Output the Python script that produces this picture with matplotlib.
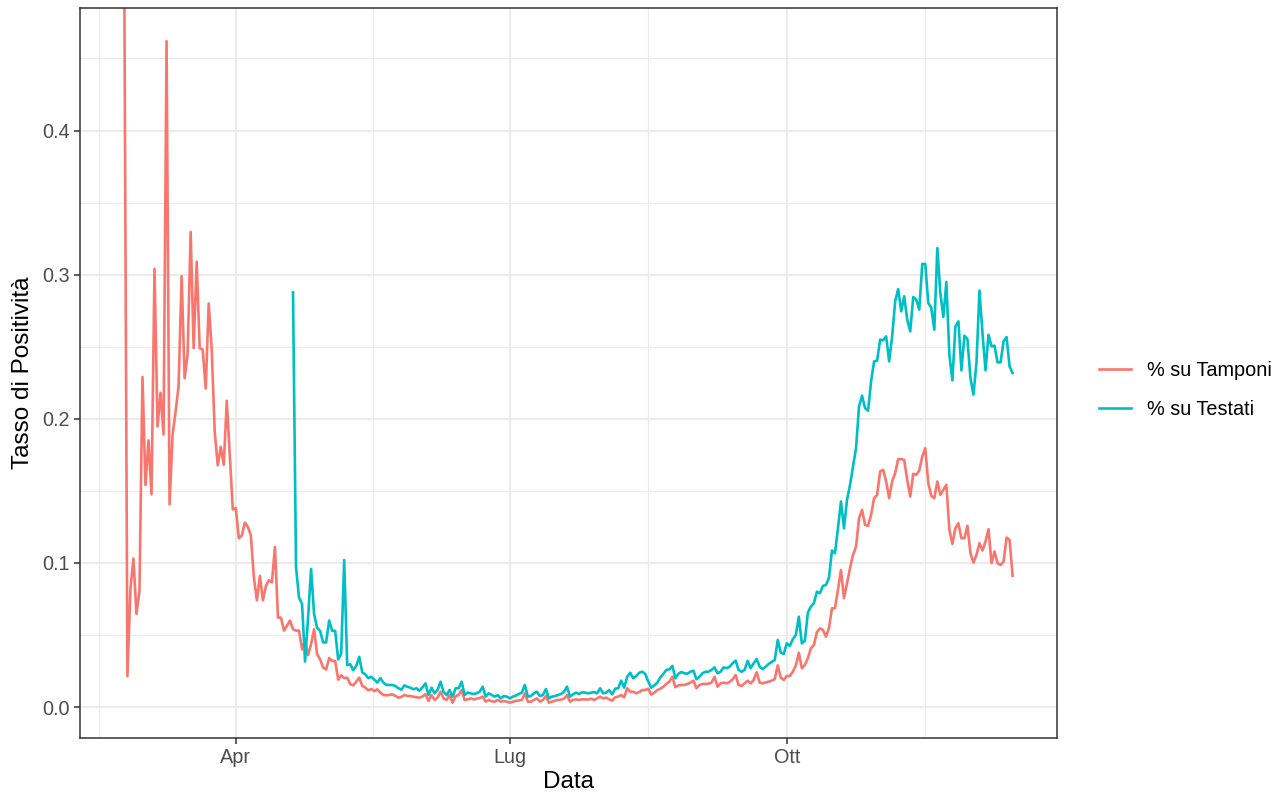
import matplotlib
matplotlib.use('Agg')
import matplotlib.pyplot as plt
import matplotlib.dates as mdates
from matplotlib.lines import Line2D
import numpy as np
import pandas as pd

plt.rcParams['font.family'] = ['Liberation Sans', 'DejaVu Sans']

# daily positivity rate, first day is a division by zero (Inf)
START_TAMPONI = '2020-02-24'
START_TESTATI = '2020-04-20'

tamponi = [
    np.inf, 0.0214, 0.082, 0.103, 0.0645, 0.0805, 0.229, 0.154, 0.185, 0.1476,
    0.304, 0.1946, 0.218, 0.189, 0.462, 0.1406, 0.189, 0.205, 0.2227, 0.299,
    0.228, 0.245, 0.3297, 0.249, 0.309, 0.2489, 0.248, 0.221, 0.280, 0.248,
    0.1907, 0.1677, 0.1805, 0.168, 0.2125, 0.175, 0.137, 0.138, 0.117, 0.119,
    0.128, 0.125, 0.119, 0.090, 0.074, 0.091, 0.074, 0.084, 0.088, 0.0865,
    0.111, 0.062, 0.062, 0.053, 0.0564, 0.060, 0.054, 0.053, 0.053, 0.040,
    0.046, 0.036, 0.0436, 0.054, 0.0367, 0.033, 0.0274, 0.026, 0.034, 0.032,
    0.032, 0.019, 0.022, 0.020, 0.0204, 0.0158, 0.015, 0.0176, 0.0204, 0.0146,
    0.0135, 0.0116, 0.0125, 0.011, 0.0123, 0.010, 0.0084, 0.0081, 0.0084, 0.0088,
    0.0077, 0.0065, 0.007, 0.0084, 0.0077, 0.0076, 0.0072, 0.0067, 0.0065, 0.0072,
    0.0088, 0.0042, 0.0083, 0.0049, 0.0065, 0.0106, 0.006, 0.0049, 0.0083, 0.003,
    0.0076, 0.0083, 0.0118, 0.0049, 0.0053, 0.006, 0.0053, 0.0058, 0.0062, 0.0072,
    0.0037, 0.0049, 0.0039, 0.0037, 0.0049, 0.0037, 0.0042, 0.0037, 0.003, 0.0037,
    0.0042, 0.0046, 0.0049, 0.0095, 0.0037, 0.0037, 0.0049, 0.006, 0.0037, 0.0049,
    0.0076, 0.003, 0.0037, 0.0044, 0.0049, 0.0051, 0.0058, 0.0083, 0.0037, 0.0049,
    0.0053, 0.0049, 0.0053, 0.0053, 0.0051, 0.0058, 0.0049, 0.006, 0.0072, 0.006,
    0.0065, 0.0053, 0.0044, 0.0067, 0.0072, 0.0083, 0.0067, 0.013, 0.0106, 0.0106,
    0.0095, 0.0104, 0.0118, 0.0118, 0.0127, 0.0086, 0.0100, 0.0118, 0.0127, 0.0141,
    0.016, 0.0176, 0.021, 0.0137, 0.015, 0.0153, 0.0153, 0.016, 0.0169, 0.0183,
    0.013, 0.0153, 0.016, 0.016, 0.0162, 0.0169, 0.021, 0.0141, 0.0164, 0.0169,
    0.0164, 0.0174, 0.0192, 0.0222, 0.0153, 0.0146, 0.0164, 0.0183, 0.0164, 0.0188,
    0.0241, 0.0169, 0.0164, 0.0171, 0.0176, 0.0183, 0.0194, 0.0289, 0.0204, 0.0188,
    0.0215, 0.0215, 0.0245, 0.0287, 0.0377, 0.0269, 0.0292, 0.0338, 0.0407, 0.043,
    0.0519, 0.0546, 0.0535, 0.0488, 0.0546, 0.0685, 0.0685, 0.0813, 0.0951, 0.0755,
    0.0859, 0.0963, 0.1056, 0.1113, 0.131, 0.1368, 0.1264, 0.1257, 0.1333, 0.1449,
    0.1472, 0.1634, 0.1646, 0.1565, 0.1449, 0.1565, 0.1623, 0.172, 0.172, 0.1715,
    0.1576, 0.146, 0.1618, 0.1611, 0.1641, 0.1738, 0.1796, 0.1553, 0.1465, 0.1449,
    0.1565, 0.1472, 0.1507, 0.1542, 0.1229, 0.1132, 0.1241, 0.1275, 0.1171, 0.1171,
    0.1257, 0.1067, 0.1002, 0.1056, 0.1137, 0.1086, 0.1148, 0.1234, 0.0998, 0.1079,
    0.0998, 0.0986, 0.1009, 0.1176, 0.116, 0.091,
]

testati = [
    0.2877, 0.097, 0.076, 0.0715,
    0.0316, 0.062, 0.0958, 0.0645, 0.055, 0.0529, 0.0448, 0.0448, 0.060, 0.0529,
    0.0529, 0.033, 0.037, 0.102, 0.029, 0.0297, 0.0255, 0.0285, 0.0348, 0.024,
    0.0227, 0.020, 0.021, 0.019, 0.017, 0.020, 0.017, 0.0153, 0.0153, 0.0153,
    0.0146, 0.013, 0.012, 0.015, 0.014, 0.0134, 0.0123, 0.013, 0.0113, 0.0137,
    0.0164, 0.0083, 0.0134, 0.0095, 0.0118, 0.0176, 0.0104, 0.0083, 0.0118, 0.0072,
    0.013, 0.013, 0.0176, 0.0083, 0.0100, 0.0095, 0.009, 0.0095, 0.0106, 0.0141,
    0.0072, 0.0095, 0.0083, 0.0072, 0.0083, 0.006, 0.0076, 0.0072, 0.006, 0.0072,
    0.0079, 0.009, 0.0100, 0.0153, 0.0072, 0.0076, 0.0095, 0.0106, 0.0076, 0.0083,
    0.0125, 0.006, 0.0072, 0.0076, 0.0083, 0.009, 0.0106, 0.0141, 0.0072, 0.0088,
    0.0100, 0.009, 0.0102, 0.0100, 0.0095, 0.0099, 0.0104, 0.0095, 0.013, 0.0095,
    0.0099, 0.0118, 0.0088, 0.0127, 0.013, 0.0183, 0.0134, 0.021, 0.0238, 0.0199,
    0.0215, 0.0238, 0.0245, 0.0229, 0.0176, 0.0134, 0.015, 0.0169, 0.0206, 0.0229,
    0.0257, 0.0262, 0.0285, 0.0199, 0.0231, 0.0243, 0.0234, 0.0231, 0.0245, 0.0252,
    0.0192, 0.021, 0.0234, 0.0245, 0.0245, 0.0257, 0.0275, 0.0234, 0.0245, 0.0275,
    0.0269, 0.028, 0.0303, 0.0322, 0.0257, 0.0245, 0.0257, 0.032, 0.0269, 0.0303,
    0.0333, 0.028, 0.0262, 0.028, 0.0299, 0.0313, 0.0326, 0.0465, 0.0377, 0.0368,
    0.0442, 0.0424, 0.047, 0.050, 0.0627, 0.0442, 0.046, 0.0655, 0.0697, 0.072,
    0.080, 0.079, 0.084, 0.0847, 0.0894, 0.1086, 0.1067, 0.124, 0.1426, 0.124,
    0.1437, 0.154, 0.167, 0.1796, 0.2086, 0.216, 0.2074, 0.2056, 0.226, 0.2398,
    0.2403, 0.2549, 0.2544, 0.2572, 0.2398, 0.2572, 0.2815, 0.290, 0.2745, 0.285,
    0.2688, 0.2606, 0.2845, 0.2826, 0.2757, 0.3074, 0.3074, 0.2803, 0.2769, 0.2618,
    0.3185, 0.2873, 0.2706, 0.2949, 0.2444, 0.2266, 0.2641, 0.2676, 0.2336, 0.2576,
    0.2553, 0.2282, 0.2167, 0.2387, 0.2889, 0.2595, 0.2336, 0.2583, 0.2502, 0.2507,
    0.2391, 0.2391, 0.2537, 0.2567, 0.2363, 0.2317,
]

series_labels = ['% su Tamponi', '% su Testati']
series_colors = ['#F8766D', '#00BFC4']

month_breaks = ['2020-04-01', '2020-07-01', '2020-10-01']
month_labels = ['Apr', 'Lug', 'Ott']
all_months = ['2020-01-01', '2020-04-01', '2020-07-01', '2020-10-01', '2021-01-01']
y_breaks = [0.0, 0.1, 0.2, 0.3, 0.4]
y_minor = [0.05, 0.15, 0.25, 0.35, 0.45]

YLIM = (-0.0215, 0.485)

days_tamp = mdates.date2num(pd.date_range(START_TAMPONI, periods=len(tamponi), freq='D'))
days_test = mdates.date2num(pd.date_range(START_TESTATI, periods=len(testati), freq='D'))

# ggplot puts Inf at the panel edge
y_tamp = np.array(tamponi)
y_tamp = np.where(np.isinf(y_tamp), YLIM[1], y_tamp)
y_test = np.array(testati)

fig = plt.figure(figsize=(12.76, 7.93), dpi=100)
ax = fig.add_axes([80 / 1276, 1 - 738 / 793, (1057 - 80) / 1276, (738 - 8) / 793])

ax.plot(days_tamp, y_tamp, color=series_colors[0], lw=1.9, label=series_labels[0])
ax.plot(days_test, y_test, color=series_colors[1], lw=1.9, label=series_labels[1])

span = days_tamp[-1] - days_tamp[0]
ax.set_xlim(days_tamp[0] - 0.05 * span, days_tamp[-1] + 0.05 * span)
ax.set_ylim(*YLIM)

major_x = mdates.date2num(pd.to_datetime(month_breaks))
all_x = mdates.date2num(pd.to_datetime(all_months))
minor_x = (all_x[:-1] + all_x[1:]) / 2

ax.set_xticks(major_x)
ax.set_xticklabels(month_labels)
ax.set_xticks(minor_x, minor=True)
ax.set_yticks(y_breaks)
ax.set_yticklabels(['%.1f' % v for v in y_breaks])
ax.set_yticks(y_minor, minor=True)

ax.set_axisbelow(True)
ax.grid(which='major', color='#EBEBEB', lw=1.5)
ax.grid(which='minor', color='#EBEBEB', lw=0.8)

for s in ax.spines.values():
    s.set_color('#333333')
    s.set_linewidth(1.1)

ax.tick_params(which='major', length=4.1, width=1.1, color='#333333',
               labelsize=14.3, labelcolor='#4D4D4D', pad=3.3)
ax.tick_params(which='minor', length=0)

ax.set_xlabel('Data', fontsize=17.5, labelpad=2.5)
ax.set_ylabel('Tasso di Positività', fontsize=17.5, labelpad=6)

handles = [Line2D([], [], color=c, lw=1.9) for c in series_colors]
fig.legend(handles, series_labels, loc='center left',
           bbox_to_anchor=(1099 / 1276, 1 - 390 / 793),
           frameon=False, fontsize=14.3, handlelength=1.6,
           handletextpad=0.8, labelspacing=0.97, borderpad=0, borderaxespad=0)

fig.savefig('out.png', dpi=100)
